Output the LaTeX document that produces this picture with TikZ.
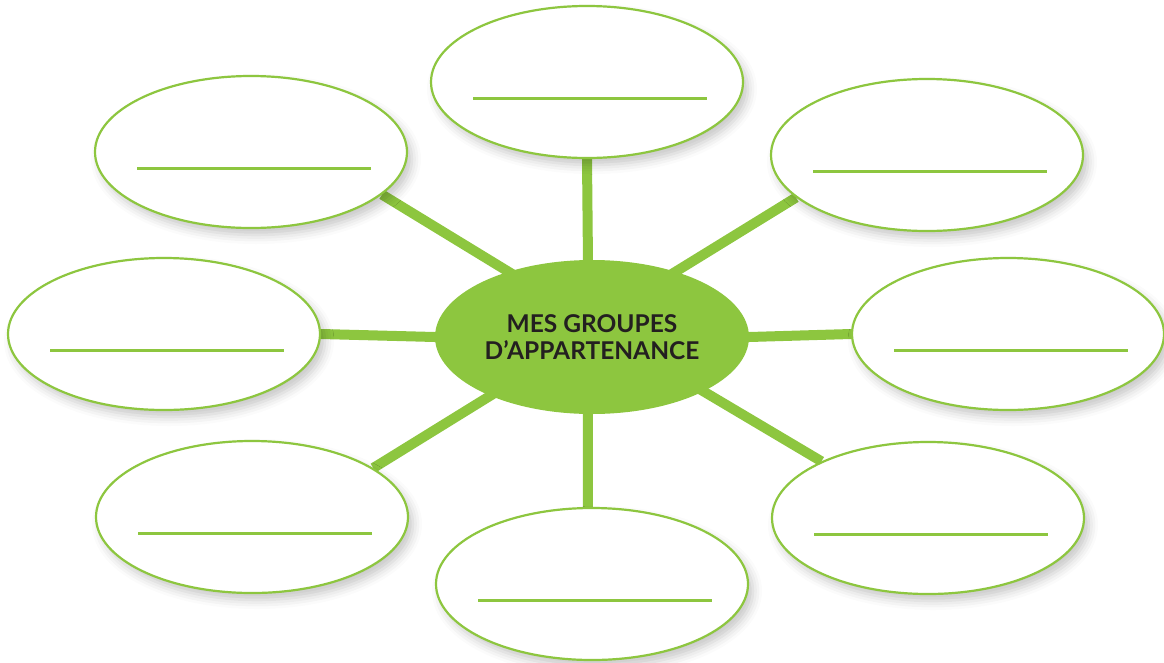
\documentclass[tikz,border=0pt]{standalone}
\usepackage{fontspec}
\setmainfont{Lato}
\usetikzlibrary{shapes.geometric,shadows.blur}
\definecolor{grn}{RGB}{141,198,63}
\definecolor{ink}{RGB}{35,31,32}
\pgfdeclarelayer{bg}
\pgfsetlayers{bg,main}
\begin{document}
\begin{tikzpicture}[x=1pt,y=-1pt,
  bubble/.style={ellipse, draw=grn, line width=2.2pt, fill=white,
    minimum width=312pt, minimum height=152pt, inner sep=0pt,
    blur shadow={shadow xshift=5pt, shadow yshift=-7pt, shadow blur radius=9pt, shadow opacity=22}},
  hub/.style={ellipse, fill=grn, minimum width=314pt, minimum height=154pt, inner sep=0pt,
    font=\fontsize{24.5}{27}\selectfont\bfseries, text=ink, align=center},
  spoke/.style={draw=grn, line width=10pt, shorten <=-15pt},
  blank/.style={draw=grn, line width=2.6pt}]
\useasboundingbox (0,0) rectangle (1164,662);
\node[bubble] (T)  at (587,82)  {};
\node[bubble] (TL) at (251,152) {};
\node[bubble] (TR) at (927,155) {};
\node[bubble] (L)  at (164,334) {};
\node[bubble] (R)  at (1008,334) {};
\node[bubble] (BL) at (252,517) {};
\node[bubble] (B)  at (592,584) {};
\node[bubble] (BR) at (928,518) {};
\node[hub] (C) at (592,337) {MES GROUPES\\D’APPARTENANCE};
\foreach \n in {T,TL,TR,L,R,BL,B,BR}
  \draw[blank] ([shift={(-114,16.5)}]\n.center) -- ++(234,0);
\begin{pgfonlayer}{bg}
\draw[spoke] (C.93) -- (T.-90);
\draw[spoke] (C.-93) -- (B.93);
\draw[spoke] (C.west) -- (L.east);
\draw[spoke] (C.east) -- (R.west);
\draw[spoke] (C.142) -- (TL.-18);
\draw[spoke] (C.38) -- (TR.-162);
\draw[spoke] (C.210) -- (BL.22);
\draw[spoke] (C.-26) -- (BR.152);
\end{pgfonlayer}
\end{tikzpicture}
\end{document}
